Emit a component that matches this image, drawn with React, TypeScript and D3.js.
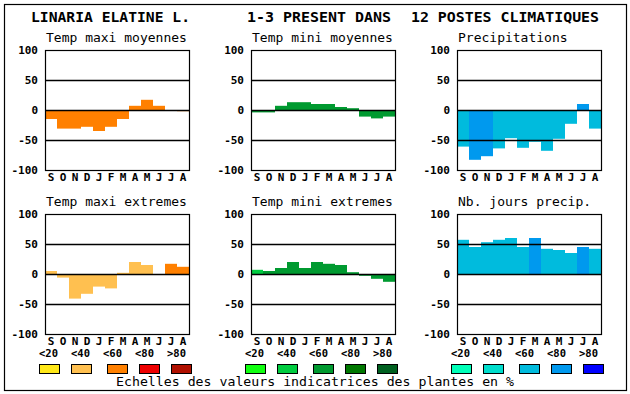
import React from 'react';
import * as d3 from 'd3';

// Months (Sept -> Aug)
const MONTHS = ["S", "O", "N", "D", "J", "F", "M", "A", "M", "J", "J", "A"];
const TICKS = [100, 50, 0, -50, -100];
const GRID = [50, 0, -50];

// values per panel and colour class (0..4 -> <20 .. >80)
const tmaxMoy = [-15, -31, -31, -28, -35, -28, -15, 7, 17, 7, 0, -2];
const tmaxMoyCls = [2, 2, 2, 2, 2, 2, 2, 2, 2, 2, 2, 2];
const tminMoy = [-4, -4, 7, 13, 13, 10, 10, 5, 3, -11, -14, -11];
const tminMoyCls = [2, 2, 2, 2, 2, 2, 2, 2, 2, 2, 2, 2];
const precip = [-61, -83, -77, -64, -47, -63, -53, -68, -48, -23, 10, -31];
const precipCls = [2, 3, 3, 2, 2, 2, 2, 2, 2, 2, 3, 2];
const tmaxExt = [5, -6, -41, -33, -21, -24, 2, 20, 15, 0, 17, 12];
const tmaxExtCls = [1, 1, 1, 1, 1, 1, 1, 1, 1, 1, 2, 2];
const tminExt = [7, 5, 10, 20, 10, 20, 17, 15, 3, -3, -8, -13];
const tminExtCls = [1, 2, 2, 2, 2, 2, 2, 2, 2, 2, 2, 2];
const joursPrecip = [57, 45, 53, 57, 60, 45, 60, 42, 40, 35, 45, 42];
const joursPrecipCls = [2, 2, 2, 2, 2, 2, 3, 2, 2, 2, 3, 2];

const SCALE_LABELS = ["<20", "<40", "<60", "<80", ">80"];
const WARM = ["#FFE818", "#FFC050", "#FF8000", "#EE0000", "#B01000"];
const GREEN = ["#10FF10", "#00CC40", "#009A30", "#007800", "#006020"];
const WATER = ["#00FFB8", "#00DDCC", "#00BBDD", "#0099EE", "#0000FF"];

const PANELS = [
  { title: "Temp maxi moyennes", values: tmaxMoy, cls: tmaxMoyCls, palette: WARM, col: 0, row: 0 },
  { title: "Temp mini moyennes", values: tminMoy, cls: tminMoyCls, palette: GREEN, col: 1, row: 0 },
  { title: "Precipitations", values: precip, cls: precipCls, palette: WATER, col: 2, row: 0 },
  { title: "Temp maxi extremes", values: tmaxExt, cls: tmaxExtCls, palette: WARM, col: 0, row: 1 },
  { title: "Temp mini extremes", values: tminExt, cls: tminExtCls, palette: GREEN, col: 1, row: 1 },
  { title: "Nb. jours precip.", values: joursPrecip, cls: joursPrecipCls, palette: WATER, col: 2, row: 1 },
];

const MONO = "'DejaVu Sans Mono', monospace";
const colX = [45, 251, 457];
const rowY = [50, 214];
const W = 144;
const H = 120;

const x = d3.scaleBand<number>().domain(d3.range(MONTHS.length)).range([0, W]);
const y = d3.scaleLinear().domain([-100, 100]).range([H, 0]);

function Panel({ p }: { p: typeof PANELS[number] }) {
  const left = colX[p.col];
  const top = rowY[p.row];
  return (
    <g transform={`translate(${left},${top})`}>
      <text x={1} y={-8} fontFamily={MONO} fontSize={13}>{p.title}</text>
      {p.values.map((v, i) => (
        <rect key={i} x={x(i)} width={x.bandwidth()}
          y={y(Math.max(0, v))} height={Math.abs(y(v) - y(0))}
          fill={p.palette[p.cls[i]]} />
      ))}
      {GRID.map(g => (
        <line key={g} x1={0} x2={W} y1={Math.round(y(g)) + 0.5} y2={Math.round(y(g)) + 0.5}
          stroke="#000" strokeWidth={1.4} />
      ))}
      <rect x={0.5} y={0.5} width={W} height={H} fill="none" stroke="#000" strokeWidth={1.2} />
      {TICKS.map(t => (
        <text key={t} x={-7} y={y(t)} textAnchor="end" dominantBaseline="central"
          fontFamily={MONO} fontWeight="bold" fontSize={11}>{t}</text>
      ))}
      {MONTHS.map((m, i) => (
        <text key={i} x={x(i)! + x.bandwidth() / 2} y={H + 11} textAnchor="middle"
          fontFamily={MONO} fontWeight="bold" fontSize={11}>{m}</text>
      ))}
    </g>
  );
}

const legendX = [-6, 26, 62, 94, 126];

export default function App() {
  return (
    <svg width={630} height={394} style={{ position: 'absolute', left: 0, top: 0, background: '#fff' }}>
      <rect x={4.5} y={4.5} width={622} height={386} fill="#fff" stroke="#000" strokeWidth={1.2} />
      <g fontFamily={MONO} fontWeight="bold" fontSize={14}>
        <text x={31} y={22} textLength={159} lengthAdjust="spacingAndGlyphs">LINARIA ELATINE L.</text>
        <text x={247} y={22} textLength={144} lengthAdjust="spacingAndGlyphs">1-3 PRESENT DANS</text>
        <text x={411} y={22} textLength={188} lengthAdjust="spacingAndGlyphs">12 POSTES CLIMATIQUES</text>
      </g>
      {PANELS.map((p, i) => <Panel key={i} p={p} />)}
      {[WARM, GREEN, WATER].map((pal, gi) => (
        <g key={gi} transform={`translate(${colX[gi]},0)`}>
          {SCALE_LABELS.map((l, i) => (
            <text key={l} x={-6 + i * 32} y={357} fontFamily={MONO} fontWeight="bold" fontSize={10.5}>{l}</text>
          ))}
          {pal.map((c, i) => (
            <rect key={c} x={legendX[i] + 0.5} y={364.5} width={20} height={9} fill={c} stroke="#000" strokeWidth={1} />
          ))}
        </g>
      ))}
      <text x={116} y={386} fontFamily={MONO} fontSize={13} textLength={398} lengthAdjust="spacingAndGlyphs">
        Echelles des valeurs indicatrices des plantes en %
      </text>
    </svg>
  );
}
